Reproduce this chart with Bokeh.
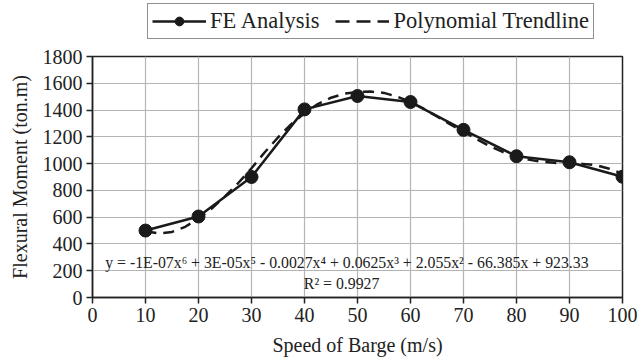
from bokeh.plotting import figure
from bokeh.models import Legend, LegendItem, Label, FixedTicker, Range1d
from bokeh.layouts import column
from bokeh.embed import file_html
from bokeh.resources import INLINE

# FE analysis results
speed = [10, 20, 30, 40, 50, 60, 70, 80, 90, 100]
moment = [500, 605, 900, 1405, 1505, 1460, 1252, 1055, 1010, 902]

# Polynomial trendline
trend_x = [10, 12.5, 15, 17.5, 20, 22.5, 25, 27.5, 30, 32.5, 35, 37.5, 40, 42.5, 45, 47.5,
           50, 52.5, 55, 57.5, 60, 62.5, 65, 67.5, 70, 72.5, 75, 77.5, 80, 82.5, 85, 87.5,
           90, 92.5, 95, 97.5, 100]
trend_y = [495, 478, 490, 528, 590, 665, 755, 855, 965, 1085, 1195, 1295, 1375, 1445, 1492, 1522,
           1535, 1538, 1528, 1500, 1460, 1410, 1352, 1292, 1238, 1182, 1130, 1085, 1050, 1028, 1013, 1004,
           1000, 998, 988, 962, 925]

x_ticks = [0, 10, 20, 30, 40, 50, 60, 70, 80, 90, 100]
y_ticks = [0, 200, 400, 600, 800, 1000, 1200, 1400, 1600, 1800]

equation = "y = -1E-07x\u2076 + 3E-05x\u2075 - 0.0027x\u2074 + 0.0625x\u00b3 + 2.055x\u00b2 - 66.385x + 923.33"
r2 = "R\u00b2 = 0.9927"

FONT = "Liberation Serif"
INK = "#1a1a1a"
TXT = "#222222"

# ---- legend strip (own figure, so the legend is not clipped by the plot frame)
LEG_H = 46
lf = figure(width=640, height=LEG_H, output_backend="svg", toolbar_location=None,
            x_range=Range1d(0, 1), y_range=Range1d(0, 1),
            x_axis_type=None, y_axis_type=None, min_border=0)
lf.outline_line_color = None
lf.xgrid.visible = False
lf.ygrid.visible = False
l_fe_line = lf.line(speed, moment, line_color=INK, line_width=2.5)
l_fe_pts = lf.scatter(speed, moment, size=8, fill_color=INK, line_color=INK)
l_tr = lf.line(trend_x, trend_y, line_color=INK, line_width=2.5, line_dash="14 7")

legend = Legend(items=[LegendItem(label="FE Analysis", renderers=[l_fe_line, l_fe_pts]),
                       LegendItem(label="Polynomial Trendline", renderers=[l_tr])],
                location=(55, 7), orientation="horizontal",
                label_text_font=FONT, label_text_font_size="22.5px", label_text_color=TXT,
                label_height=22,
                glyph_width=54, glyph_height=22, label_standoff=4, spacing=16,
                padding=4, margin=0,
                border_line_color=TXT, border_line_width=1.2,
                background_fill_alpha=1.0)
lf.add_layout(legend, "center")

# ---- main chart
p = figure(width=640, height=363 - LEG_H, output_backend="svg", toolbar_location=None,
           x_range=Range1d(0, 100), y_range=Range1d(0, 1800),
           min_border_left=92, min_border_right=18, min_border_top=56 - LEG_H, min_border_bottom=66)

p.outline_line_color = TXT
p.outline_line_width = 1.5
p.background_fill_color = "white"
p.border_fill_color = "white"

for ax in (p.xaxis, p.yaxis):
    ax.axis_line_color = TXT
    ax.axis_line_width = 1.5
    ax.major_tick_line_color = TXT
    ax.major_tick_line_width = 1.5
    ax.major_tick_out = 6
    ax.major_tick_in = 0
    ax.minor_tick_line_color = None
    ax.major_label_text_font = FONT
    ax.major_label_text_font_size = "20px"
    ax.major_label_text_color = TXT
    ax.axis_label_text_font = FONT
    ax.axis_label_text_font_size = "20px"
    ax.axis_label_text_font_style = "normal"
    ax.axis_label_text_color = TXT

p.xaxis.ticker = FixedTicker(ticks=x_ticks)
p.yaxis.ticker = FixedTicker(ticks=y_ticks)
p.xaxis.axis_label = "Speed of Barge (m/s)"
p.yaxis.axis_label = "Flexural Moment (ton.m)"
p.xaxis.major_label_standoff = 4
p.yaxis.major_label_standoff = 4
p.xaxis.axis_label_standoff = 9
p.yaxis.axis_label_standoff = 9

p.xgrid.ticker = FixedTicker(ticks=x_ticks)
p.ygrid.ticker = FixedTicker(ticks=y_ticks)
p.xgrid.grid_line_color = "#b4b4b4"
p.ygrid.grid_line_color = "#b4b4b4"
p.xgrid.grid_line_width = 1.2
p.ygrid.grid_line_width = 1.2

p.line(trend_x, trend_y, line_color=INK, line_width=2.5, line_dash="11 7")
p.line(speed, moment, line_color=INK, line_width=2.5)
p.scatter(speed, moment, size=13, fill_color=INK, line_color=INK)

p.add_layout(Label(x=48, y=262, text=equation, text_font=FONT, text_font_size="15.8px",
                   text_color=TXT, text_align="center", text_baseline="middle"))
p.add_layout(Label(x=47, y=105, text=r2, text_font=FONT, text_font_size="15.8px",
                   text_color=TXT, text_align="center", text_baseline="middle"))

layout = column(lf, p, spacing=0)
open("out.html", "w").write(file_html(layout, INLINE))
